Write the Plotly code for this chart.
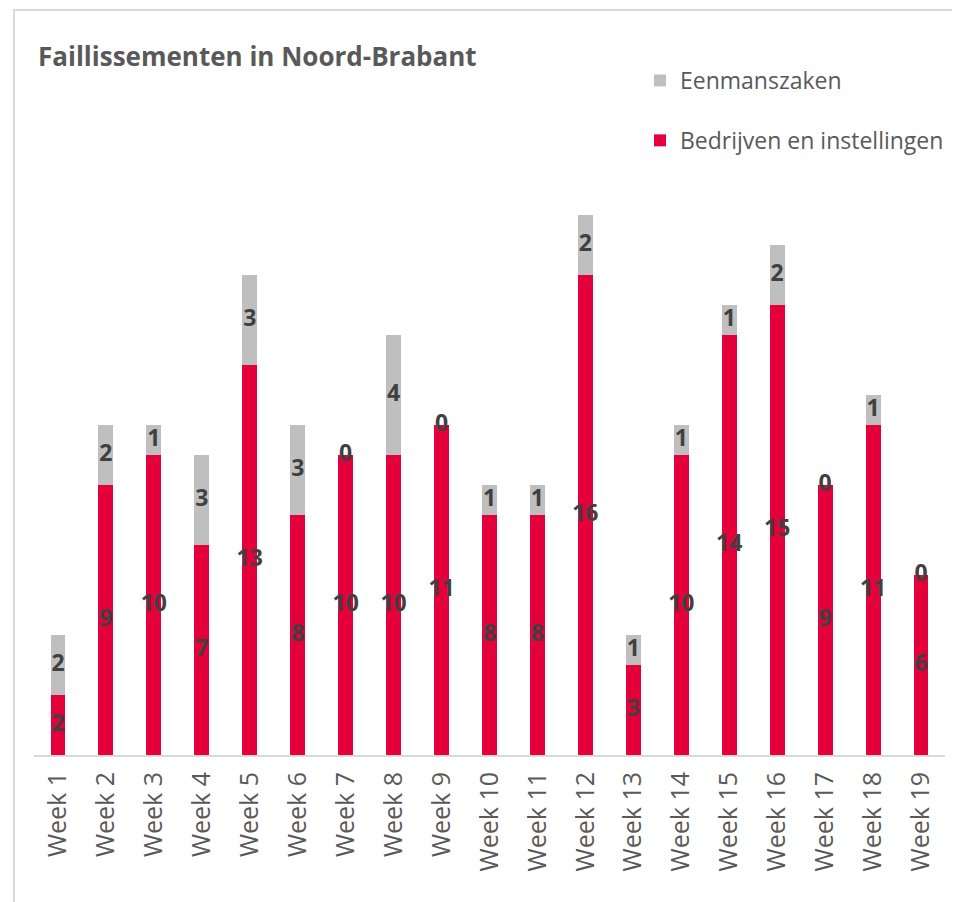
import plotly.graph_objects as go

weeks = [f"Week {i}" for i in range(1, 20)]
bedrijven = [2, 9, 10, 7, 13, 8, 10, 10, 11, 8, 8, 16, 3, 10, 14, 15, 9, 11, 6]
eenmanszaken = [2, 2, 1, 3, 3, 3, 0, 4, 0, 1, 1, 2, 1, 1, 1, 2, 0, 1, 0]

RED = "#E4003A"
GRAY = "#BFBFBF"
TXT = "#404040"
FONT = "Open Sans"

# page body has an 8px margin; figure coordinates = screen - 8
W, H = 952, 894
L, R, T, B = 26, 15, 147, 147
pw, ph = W - L - R, H - T - B

def px(x):
    return (x - L) / pw

def py(y):
    return (H - B - y) / ph

fig = go.Figure()
fig.add_bar(x=weeks, y=bedrijven, name="Bedrijven en instellingen",
            marker=dict(color=RED, line=dict(width=0)), legendgroup="b", legendrank=2,
            hoverinfo="x+y+name")
fig.add_bar(x=weeks, y=eenmanszaken, name="Eenmanszaken",
            marker=dict(color=GRAY, line=dict(width=0)), legendgroup="e", legendrank=1,
            hoverinfo="x+y+name")

# data labels at segment centres
red_mid = [v / 2 for v in bedrijven]
gray_mid = [b + e / 2 for b, e in zip(bedrijven, eenmanszaken)]
lab_font = dict(family=FONT, size=23, color=TXT)
fig.add_scatter(x=weeks, y=red_mid, mode="text", text=[f"<b>{v}</b>" for v in bedrijven],
                textfont=lab_font, showlegend=False, hoverinfo="skip", cliponaxis=False)
fig.add_scatter(x=weeks, y=gray_mid, mode="text", text=[f"<b>{v}</b>" for v in eenmanszaken],
                textfont=lab_font, showlegend=False, hoverinfo="skip", cliponaxis=False)

fig.update_layout(
    width=W, height=H,
    margin=dict(l=L, r=R, t=T, b=B, autoexpand=False),
    barmode="stack", bargap=0.69,
    paper_bgcolor="white", plot_bgcolor="white",
    font=dict(family=FONT, color="#595959"),
    title=dict(text="<b>Faillissementen in Noord-Brabant</b>",
               x=px(30), xref="paper", xanchor="left",
               y=1 - 49 / H, yref="container", yanchor="middle",
               font=dict(family=FONT, size=26, color="#595959")),
    legend=dict(x=px(632), y=py(51), xanchor="left", yanchor="top",
                traceorder="grouped", tracegroupgap=27,
                font=dict(family=FONT, size=23, color="#595959"),
                bgcolor="rgba(0,0,0,0)", itemclick=False),
    xaxis=dict(range=[-0.5, len(weeks) - 0.5], showline=True, linecolor="#D9D9D9", linewidth=2,
               ticks="", tickangle=-90, ticklabelstandoff=5,
               tickfont=dict(family=FONT, size=25, color="#595959"),
               showgrid=False, fixedrange=True),
    yaxis=dict(range=[0, 20], visible=False, showgrid=False, fixedrange=True),
    shapes=[dict(type="rect", xref="paper", yref="paper",
                 x0=px(6), x1=px(990), y0=py(930), y1=py(2),
                 line=dict(color="#D9D9D9", width=2), fillcolor="rgba(0,0,0,0)",
                 layer="below")],
)

fig.write_html("out.html")
